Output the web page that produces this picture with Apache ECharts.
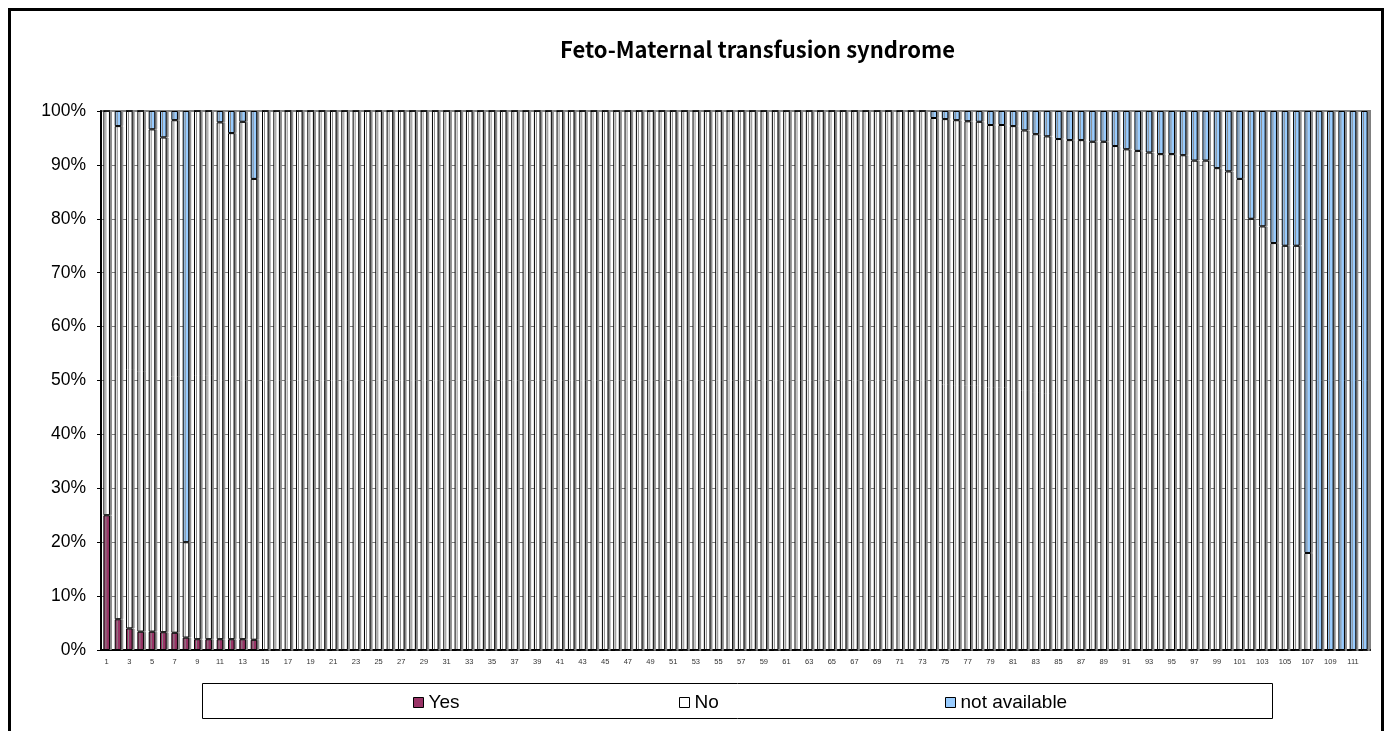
<!DOCTYPE html>
<html>
<head>
<meta charset="utf-8">
<script src="https://cdn.jsdelivr.net/npm/echarts@6/dist/echarts.min.js"></script>
<style>
  html, body { margin: 0; padding: 0; background: #fff; }
  #main { width: 1385px; height: 731px; }
</style>
</head>
<body>
<div id="main"></div>
<script>
// categories 1..112
var cats = [];
for (var i = 1; i <= 112; i++) { cats.push(String(i)); }

// percentages
var yesVals = [
  25, 5.7, 4, 3.4, 3.4, 3.3, 3.2, 2.3, 2, 2,
  2, 2, 2, 1.9, 0, 0, 0, 0, 0, 0,
  0, 0, 0, 0, 0, 0, 0, 0, 0, 0,
  0, 0, 0, 0, 0, 0, 0, 0, 0, 0,
  0, 0, 0, 0, 0, 0, 0, 0, 0, 0,
  0, 0, 0, 0, 0, 0, 0, 0, 0, 0,
  0, 0, 0, 0, 0, 0, 0, 0, 0, 0,
  0, 0, 0, 0, 0, 0, 0, 0, 0, 0,
  0, 0, 0, 0, 0, 0, 0, 0, 0, 0,
  0, 0, 0, 0, 0, 0, 0, 0, 0, 0,
  0, 0, 0, 0, 0, 0, 0, 0, 0, 0,
  0, 0
];
var noVals = [
  75, 91.5, 96, 96.6, 93.2, 91.8, 95.1, 17.7, 98, 98,
  95.9, 93.9, 96, 85.5, 100, 100, 100, 100, 100, 100,
  100, 100, 100, 100, 100, 100, 100, 100, 100, 100,
  100, 100, 100, 100, 100, 100, 100, 100, 100, 100,
  100, 100, 100, 100, 100, 100, 100, 100, 100, 100,
  100, 100, 100, 100, 100, 100, 100, 100, 100, 100,
  100, 100, 100, 100, 100, 100, 100, 100, 100, 100,
  100, 100, 100, 98.7, 98.5, 98.3, 98.1, 98, 97.4, 97.4,
  97.2, 96.4, 95.7, 95.3, 94.8, 94.6, 94.6, 94.3, 94.3, 93.5,
  92.9, 92.6, 92.3, 92, 92, 91.8, 90.8, 90.8, 89.4, 88.8,
  87.4, 80, 78.6, 75.5, 75, 75, 18, 0, 0, 0,
  0, 0
];
var naVals = [
  0, 2.8, 0, 0, 3.4, 4.9, 1.7, 80, 0, 0,
  2.1, 4.1, 2.0, 12.6, 0, 0, 0, 0, 0, 0,
  0, 0, 0, 0, 0, 0, 0, 0, 0, 0,
  0, 0, 0, 0, 0, 0, 0, 0, 0, 0,
  0, 0, 0, 0, 0, 0, 0, 0, 0, 0,
  0, 0, 0, 0, 0, 0, 0, 0, 0, 0,
  0, 0, 0, 0, 0, 0, 0, 0, 0, 0,
  0, 0, 0, 1.3, 1.5, 1.7, 1.9, 2.0, 2.6, 2.6,
  2.8, 3.6, 4.3, 4.7, 5.2, 5.4, 5.4, 5.7, 5.7, 6.5,
  7.1, 7.4, 7.7, 8.0, 8.0, 8.2, 9.2, 9.2, 10.6, 11.2,
  12.6, 20, 21.4, 24.5, 25, 25, 82, 100, 100, 100,
  100, 100
];

var chart = echarts.init(document.getElementById('main'));

function barStyle(color) {
  return {
    color: color,
    borderColor: '#000',
    borderWidth: 1,
    shadowColor: '#8a8a8a',
    shadowOffsetX: 2,
    shadowOffsetY: 0,
    shadowBlur: 0
  };
}
var legendItem = { borderColor: '#000', borderWidth: 1, shadowColor: 'rgba(0,0,0,0)', shadowOffsetX: 0 };
var legendText = { fontSize: 19, color: '#000', fontFamily: 'Liberation Sans, Arial, sans-serif' };

chart.setOption({
  animation: false,
  backgroundColor: '#fff',
  title: {
    text: 'Feto-Maternal transfusion syndrome',
    left: 555,
    top: 34,
    textStyle: { fontSize: 22, fontWeight: 'bold', color: '#000', fontFamily: 'Noto Sans CJK JP' }
  },
  graphic: [
    { type: 'rect', shape: { x: 9.5, y: 9.5, width: 1373, height: 740 },
      style: { fill: 'none', stroke: '#000', lineWidth: 3 }, z: 100 },
    { type: 'rect', shape: { x: 202.5, y: 683.5, width: 1070, height: 35 },
      style: { fill: 'none', stroke: '#000', lineWidth: 1 }, z: 100 }
  ],
  legend: [
    { data: ['Yes'], left: 413, top: 693, padding: 0, itemWidth: 10, itemHeight: 10, icon: 'rect', itemStyle: legendItem, textStyle: legendText, selectedMode: false },
    { data: ['No'], left: 679, top: 693, padding: 0, itemWidth: 10, itemHeight: 10, icon: 'rect', itemStyle: legendItem, textStyle: legendText, selectedMode: false },
    { data: ['not available'], left: 945, top: 693, padding: 0, itemWidth: 10, itemHeight: 10, icon: 'rect', itemStyle: legendItem, textStyle: legendText, selectedMode: false }
  ],
  grid: {
    left: 101, right: 15, top: 111, bottom: 81,
    show: true, borderColor: '#808080', borderWidth: 2, backgroundColor: '#fff'
  },
  xAxis: {
    type: 'category',
    data: cats,
    axisLine: { lineStyle: { color: '#000', width: 2 } },
    axisTick: { inside: true, length: 3, lineStyle: { color: '#808080' } },
    axisLabel: { interval: 1, fontSize: 7.5, color: '#333', margin: 8, fontFamily: 'Liberation Sans, Arial, sans-serif' },
    splitLine: { show: false }
  },
  yAxis: {
    type: 'value',
    min: 0, max: 100, interval: 10,
    axisLine: { show: true, lineStyle: { color: '#000', width: 2 } },
    axisTick: { show: true, length: 4, lineStyle: { color: '#000' } },
    axisLabel: { formatter: '{value}%', fontSize: 17.5, color: '#000', margin: 15, fontFamily: 'Liberation Sans, Arial, sans-serif' },
    splitLine: { lineStyle: { color: '#808080', width: 1 } }
  },
  series: [
    { name: 'Yes', type: 'bar', stack: 'all', data: yesVals, barCategoryGap: '42%', itemStyle: barStyle('#993366') },
    { name: 'No', type: 'bar', stack: 'all', data: noVals, barCategoryGap: '42%', itemStyle: barStyle('#ffffff') },
    { name: 'not available', type: 'bar', stack: 'all', data: naVals, barCategoryGap: '42%', itemStyle: barStyle('#99ccff') }
  ]
});
</script>
</body>
</html>
